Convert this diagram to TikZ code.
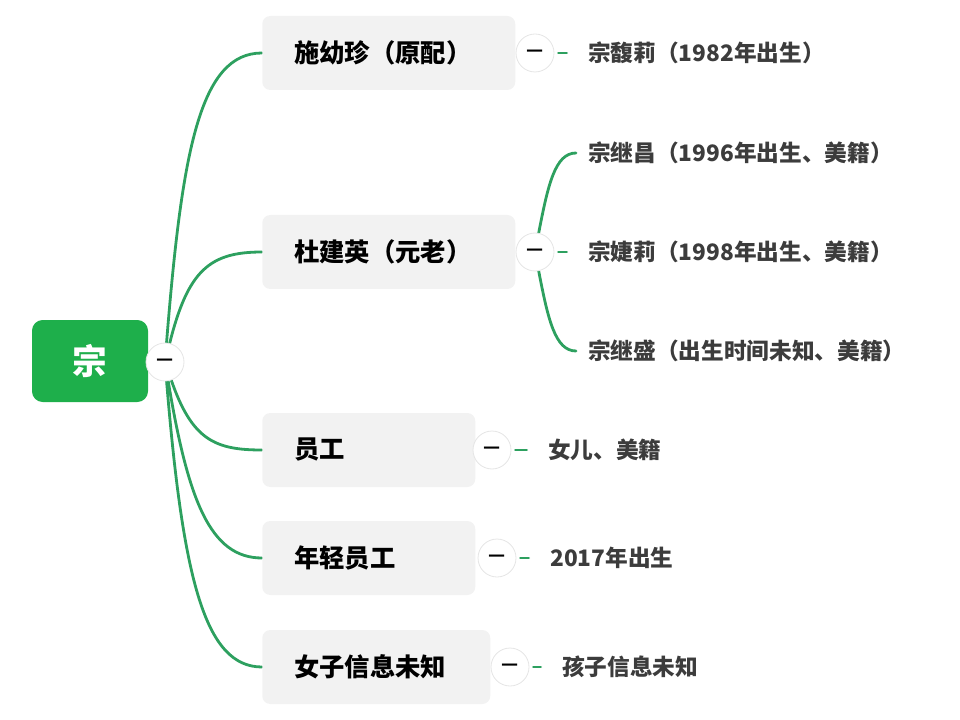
\documentclass[tikz,border=0pt]{standalone}
\usepackage{fontspec}
\newfontfamily\cjk{Noto Sans CJK SC}
\usetikzlibrary{positioning}
\definecolor{rootgreen}{RGB}{30,175,75}
\definecolor{linegreen}{RGB}{45,160,95}
\definecolor{boxgray}{RGB}{242,242,242}
\definecolor{subtext}{RGB}{60,60,60}
\pgfdeclarelayer{bg}
\pgfsetlayers{bg,main}
\tikzset{
  topic/.style={fill=boxgray, rounded corners=6pt, minimum height=55.5pt,
    anchor=west, inner xsep=24pt, align=left,
    font=\cjk\bfseries\fontsize{19}{22}\selectfont},
  sub/.style={anchor=west, inner sep=0pt, text=subtext,
    font=\cjk\bfseries\fontsize{17}{20}\selectfont},
  fold/.style={circle, fill=white, draw=black!10, line width=0.6pt,
    minimum size=28.5pt, inner sep=0pt, font=\cjk\bfseries\fontsize{14}{14}\selectfont},
  branch/.style={draw=linegreen, line width=2.1pt, line cap=round},
}

\begin{document}
\begin{tikzpicture}[x=0.75pt, y=-0.75pt]
    \useasboundingbox (0,0) rectangle (960,720);

    % root
    \node[fill=rootgreen, rounded corners=8pt, minimum width=87pt, minimum height=61.5pt,
        text=white, font=\cjk\bfseries\fontsize{26}{28}\selectfont] (root) at (90,361) {宗};
    \node[fold] (rc) at (165,362) {—};

    % first level
    \node[topic, text width=141.75pt] (shi) at (262,53)  {施幼珍（原配）};
    \node[topic, text width=141.75pt] (du)  at (262,252) {杜建英（元老）};
    \node[topic, text width=111.75pt] (yg)  at (262,450) {员工};
    \node[topic, text width=111.75pt] (nq)  at (262,558) {年轻员工};
    \node[topic, text width=123pt]    (nz)  at (262,667) {女子信息未知};

    \node[fold] (cshi) at (535,53)  {—};
    \node[fold] (cdu)  at (535,252) {—};
    \node[fold] (cyg)  at (492,450) {—};
    \node[fold] (cnq)  at (497,558) {—};
    \node[fold] (cnz)  at (510,667) {—};

    % second level
    \node[sub] (k1) at (588,53)  {宗馥莉（1982年出生）};
    \node[sub] (k2) at (588,153) {宗继昌（1996年出生、美籍）};
    \node[sub] (k3) at (588,252) {宗婕莉（1998年出生、美籍）};
    \node[sub] (k4) at (588,351) {宗继盛（出生时间未知、美籍）};
    \node[sub] (k5) at (548,450) {女儿、美籍};
    \node[sub] (k6) at (550,558) {2017年出生};
    \node[sub] (k7) at (562,667) {孩子信息未知};

    \begin{pgfonlayer}{bg}
    \draw[branch] (rc) .. controls (182,150) and (200,53)  .. (shi.west);
    \draw[branch] (rc) .. controls (188,270) and (210,252) .. (du.west);
    \draw[branch] (rc) .. controls (192,440) and (215,450) .. (yg.west);
    \draw[branch] (rc) .. controls (188,500) and (210,558) .. (nq.west);
    \draw[branch] (rc) .. controls (183,580) and (205,667) .. (nz.west);

    \draw[branch, shorten >=9pt] (cdu) .. controls (548,185) and (555,153) .. (k2.west);
    \draw[branch, shorten >=9pt] (cdu) .. controls (548,319) and (555,351) .. (k4.west);
    \end{pgfonlayer}

    \path[branch, shorten <=3pt, shorten >=16pt]
        (cshi) edge (k1)
        (cdu)  edge (k3)
        (cyg)  edge (k5)
        (cnq)  edge (k6)
        (cnz)  edge (k7)
    ;
\end{tikzpicture}
\end{document}
